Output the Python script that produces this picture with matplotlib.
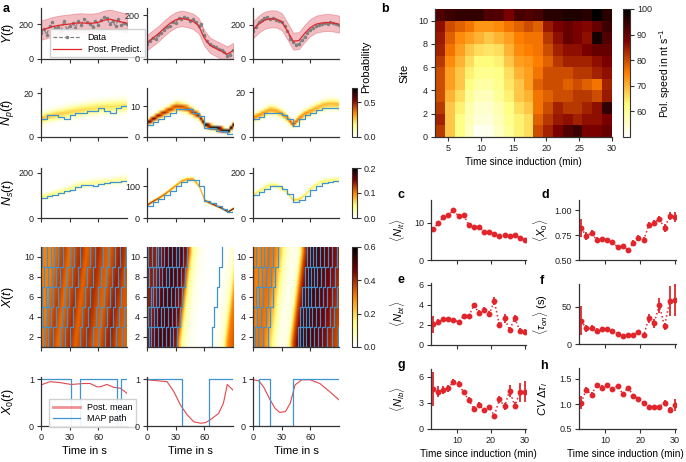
import matplotlib
matplotlib.use("Agg")
import matplotlib.pyplot as plt
import numpy as np

plt.rcParams['font.family'] = ['Liberation Sans', 'DejaVu Sans']
plt.rcParams['mathtext.fontset'] = 'custom'
plt.rcParams['mathtext.rm'] = 'Liberation Sans'
plt.rcParams['mathtext.it'] = 'Liberation Sans:italic'
plt.rcParams['font.size'] = 6.5
plt.rcParams['axes.linewidth'] = 0.9
plt.rcParams['axes.edgecolor'] = '#333333'
plt.rcParams['xtick.major.size'] = 3
plt.rcParams['ytick.major.size'] = 3
plt.rcParams['xtick.major.pad'] = 2
plt.rcParams['ytick.major.pad'] = 2
plt.rcParams['xtick.color'] = '#333333'
plt.rcParams['ytick.color'] = '#333333'
plt.rcParams['xtick.labelcolor'] = '#222222'
plt.rcParams['ytick.labelcolor'] = '#222222'

# ---------------- panel a data ----------------
t_post = np.arange(0, 91, 6)      # posterior grid (s)
t_frames = np.arange(0, 91, 3)    # measured frames (s)

# Y(t): data and posterior predictive mean, one per trace
y_data = [
    [150, 170, 140, 190, 210, 175, 185, 160, 220, 170, 190, 205, 180, 215, 195, 230,
     210, 200, 185, 220, 195, 225, 240, 235, 200, 215, 190, 230, 195, 205, 200],
    [70, 80, 95, 90, 110, 120, 130, 145, 150, 170, 165, 185, 180, 190, 185, 175,
     180, 170, 150, 160, 110, 80, 70, 60, 55, 45, 40, 30, 15, 20, 40],
    [165, 190, 215, 230, 240, 245, 235, 240, 230, 225, 215, 195, 165, 120, 100, 85,
     90, 110, 130, 155, 170, 185, 195, 200, 205, 210, 205, 215, 210, 205, 200],
]
y_mean = [
    [165, 175, 185, 192, 197, 200, 205, 207, 205, 205, 210, 222, 228, 220, 212, 205],
    [75, 95, 115, 140, 162, 178, 185, 180, 172, 152, 95, 62, 48, 35, 22, 38],
    [172, 205, 228, 236, 236, 220, 165, 105, 108, 150, 185, 205, 212, 215, 212, 205],
]
y_sd = [55, 35, 50]

# N_p(t): posterior mean and MAP path
np_mean = [
    [8.2, 9.2, 9.8, 10.3, 10.8, 11.3, 11.8, 12.2, 12.6, 13.0, 13.3, 13.6, 13.8, 14.0, 14.1, 14.2],
    [4.6, 5.8, 7.0, 8.0, 9.0, 10.0, 9.8, 9.2, 8.0, 7.0, 4.0, 3.3, 2.8, 2.4, 1.8, 4.0],
    [8.5, 9.7, 11.0, 12.2, 11.8, 10.5, 8.5, 5.5, 8.2, 10.3, 11.5, 12.8, 14.0, 14.7, 14.8, 14.5],
]
np_map = [
    [8, 10, 10, 9, 8, 10, 11, 11, 12, 12, 13, 12, 11, 13, 14, 14],
    [4, 5, 6, 7, 8, 9, 9, 9, 8, 7, 3, 3, 2, 2, 1, 4],
    [8, 9, 11, 11, 11, 10, 8, 5, 8, 10, 11, 12, 13, 13, 13, 12],
]
np_width = [0.5, 0.3, 0.38]

# N_s(t)
ns_mean = [
    [92, 98, 106, 114, 120, 128, 140, 148, 150, 155, 158, 160, 162, 165, 168, 172],
    [40, 52, 62, 74, 88, 102, 116, 122, 122, 100, 55, 46, 38, 30, 19, 30],
    [102, 118, 134, 146, 145, 132, 112, 80, 82, 100, 128, 145, 160, 164, 168, 170],
]
ns_map = [
    [88, 96, 104, 112, 118, 126, 136, 146, 148, 140, 150, 156, 160, 162, 165, 170],
    [38, 50, 60, 72, 86, 100, 114, 120, 118, 100, 52, 46, 38, 28, 18, 28],
    [100, 115, 130, 142, 142, 128, 108, 72, 78, 98, 125, 142, 156, 160, 164, 160],
]
ns_width = [0.85, 0.4, 0.6]

# X(t): occupation at site 1, moves up the gene with the polymerases
x_init = [
    [0.30, 0.34, 0.38, 0.32, 0.36, 0.40, 0.33, 0.37, 0.40, 0.35, 0.33, 0.38, 0.42, 0.36, 0.34, 0.33],
    [0.42, 0.46, 0.50, 0.50, 0.48, 0.42, 0.12, 0.03, 0.01, 0.0, 0.0, 0.0, 0.02, 0.05, 0.30, 0.35],
    [0.30, 0.32, 0.30, 0.20, 0.06, 0.02, 0.04, 0.35, 0.50, 0.52, 0.50, 0.48, 0.45, 0.42, 0.38, 0.35],
]
hop = 1.3  # s per site
path_starts = [
    [-12, -7, -3, 1, 5, 10, 17, 22, 28, 38, 44, 52, 58, 64, 70, 76, 82, 87],
    [-12, -8, -4, -1, 2, 5, 9, 13, 17, 21, 25, 29, 65, 88],
    [-10, -5, -1, 3, 8, 13, 44, 47, 50, 53, 57, 61, 65, 70, 75, 80, 86],
]

# X_0(t): posterior mean and MAP path
x0_t = [
    [0, 9.5, 20, 31.5, 44.5, 51.5, 58.5, 62, 69, 76, 83, 90],
    [0, 10.5, 21, 28, 35, 42, 49, 56, 61, 66, 75, 80, 84, 90],
    [0, 6, 11, 18, 23, 28, 34, 39, 44, 51, 60, 70, 80, 90],
]
x0_mean = [
    [0.88, 0.95, 0.93, 0.89, 0.91, 0.91, 0.84, 0.84, 0.89, 0.83, 0.81, 0.70],
    [0.99, 0.97, 0.95, 0.74, 0.45, 0.24, 0.09, 0.06, 0.07, 0.13, 0.27, 0.49, 0.89, 0.77],
    [0.99, 0.97, 0.84, 0.56, 0.38, 0.29, 0.31, 0.49, 0.88, 0.99, 0.99, 0.91, 0.74, 0.56],
]
x0_map_t = [[0, 31.5, 40.3, 80, 83.7, 90], [0, 36.6, 64.5, 90], [0, 5.9, 18, 41.5, 90]]
x0_map_s = [[1, 0, 1, 0, 1, 1], [1, 0, 1, 1], [0, 1, 0, 1, 1]]

# ---------------- panel b data ----------------
b_time_edges = np.arange(3, 30.1, 1.5)
b_site_edges = np.arange(0, 12)
speed = np.array([
    [82, 68, 62, 56, 51, 52, 56, 60, 64, 66, 80, 84, 88, 92, 94, 88, 88, 90],
    [84, 68, 62, 57, 54, 54, 57, 61, 64, 66, 78, 82, 85, 86, 84, 86, 86, 88],
    [82, 68, 64, 58, 55, 55, 58, 62, 66, 68, 76, 80, 84, 82, 82, 84, 86, 95],
    [80, 70, 66, 60, 57, 57, 60, 64, 68, 70, 76, 78, 80, 80, 82, 82, 80, 85],
    [80, 72, 68, 62, 59, 59, 61, 65, 68, 72, 78, 80, 80, 78, 80, 78, 76, 84],
    [80, 72, 68, 64, 61, 61, 62, 66, 70, 72, 76, 80, 80, 80, 82, 82, 84, 86],
    [82, 74, 70, 66, 63, 63, 64, 68, 72, 73, 75, 78, 82, 84, 84, 84, 86, 88],
    [84, 76, 72, 68, 66, 65, 66, 70, 74, 75, 76, 80, 84, 86, 86, 88, 90, 90],
    [85, 78, 74, 72, 70, 68, 70, 72, 75, 76, 76, 82, 86, 90, 88, 86, 98, 92],
    [86, 80, 78, 76, 73, 73, 74, 76, 78, 80, 78, 85, 88, 90, 88, 87, 90, 94],
    [92, 94, 95, 95, 95, 92, 92, 88, 93, 92, 93, 96, 96, 97, 97, 96, 100, 96],
])

# ---------------- panels c-h data ----------------
t_ind = np.arange(3, 30.1, 1.5)
c_val = [8.2, 9.8, 11.4, 12.1, 13.2, 11.7, 11.9, 9.4, 8.7, 8.7, 7.6, 7.6, 6.9, 6.3, 6.7, 6.3, 6.8, 5.8, 5.4]
c_err = [0.5, 0.4, 0.4, 0.3, 0.3, 0.3, 0.3, 0.3, 0.3, 0.3, 0.3, 0.3, 0.3, 0.3, 0.3, 0.3, 0.3, 0.3, 0.3]
d_val = [0.82, 0.74, 0.77, 0.70, 0.71, 0.70, 0.68, 0.63, 0.64, 0.60, 0.67, 0.72, 0.70, 0.85, 0.87, 0.91, 0.82, 0.94, 0.93]
d_err = [0.09, 0.04, 0.03, 0.03, 0.02, 0.02, 0.02, 0.02, 0.02, 0.02, 0.03, 0.03, 0.03, 0.03, 0.03, 0.03, 0.04, 0.04, 0.05]
e_val = [2.07, 2.27, 2.6, 2.57, 2.55, 2.3, 2.9, 2.9, 3.97, 3.23, 3.5, 3.1, 4.37, 2.0, 2.67, 1.5, 2.7, 1.43, 1.33]
e_err = [0.85, 0.3, 0.2, 0.15, 0.15, 0.15, 0.2, 0.2, 0.25, 0.25, 0.3, 0.3, 0.4, 0.3, 0.45, 0.3, 0.35, 0.3, 0.3]
f_val = [31.5, 21, 21, 18, 20, 20.5, 17, 14, 11, 11.5, 12.5, 16, 11.5, 35, 28, 52, 24, 58, 60]
f_err = [20, 5, 4, 3, 3, 3, 3, 2, 2, 2, 2, 3, 3, 6, 6, 10, 5, 20, 22]
g_val = [4.6, 4.3, 4.5, 4.7, 5.45, 5.2, 4.2, 3.35, 2.3, 2.75, 2.2, 2.5, 1.55, 3.4, 2.6, 4.4, 2.65, 4.2, 4.3]
g_err = [1.9, 0.6, 0.5, 0.4, 0.3, 0.3, 0.3, 0.3, 0.3, 0.3, 0.2, 0.3, 0.2, 0.4, 0.4, 0.7, 0.4, 1.1, 1.2]
h_val = [1.03, 1.28, 1.19, 1.38, 1.33, 1.38, 1.31, 1.36, 1.2, 1.33, 1.17, 1.11, 1.03, 0.95, 0.95, 0.95, 1.03, 0.88, 0.98]
h_err = [0.13, 0.06, 0.05, 0.05, 0.05, 0.04, 0.04, 0.04, 0.04, 0.04, 0.04, 0.04, 0.03, 0.03, 0.03, 0.04, 0.05, 0.06, 0.12]

RED = '#e0262c'
BLUE = '#3d94d1'
CMAP = 'afmhot_r'

W, H = 686, 462
fig = plt.figure(figsize=(6.86, 4.62), dpi=100)


def add_ax(l, t, r, b):
    return fig.add_axes([l / W, 1 - b / H, (r - l) / W, (b - t) / H])


def despine(ax):
    ax.spines['top'].set_visible(False)
    ax.spines['right'].set_visible(False)


def density(mean, width, ymax):
    tt = np.linspace(0, 90, 271)
    mu = np.interp(tt, t_post, mean)
    yy = np.arange(0, ymax + 1)
    sd = width * np.sqrt(np.maximum(mu, 1))
    p = np.exp(-(yy[:, None] - mu[None, :]) ** 2 / (2 * sd ** 2)) / (np.sqrt(2 * np.pi) * sd)
    return p, [0, 90, -0.5, ymax + 0.5]


col_left = [41, 147, 253]
rows = [(8, 59), (88, 137), (168, 218), (247, 347), (377, 426)]
ylabels = ['$Y(t)$', '$N_p(t)$', '$N_s(t)$', '$X(t)$', '$X_0(t)$']

y_lims = [(0, 292), (0, 232), (0, 300)]
np_lims = [(0, 22.3), (0, 16), (0, 22)]
np_ticks = [[0, 20], [0, 10], [0, 20]]
ns_lims = [(0, 222), (0, 157), (0, 222)]
ns_ticks = [[0, 200], [0, 100], [0, 200]]

ims = {}
for c in range(3):
    l = col_left[c]
    axs = [add_ax(l, t, l + 86, b) for (t, b) in rows]
    for r, ax in enumerate(axs):
        despine(ax)
        ax.set_xlim(0, 90)
        ax.set_xticks([0, 30, 60])
        if r < 4:
            ax.set_xticklabels([])
        else:
            ax.set_xlabel('Time in s', fontsize=8, labelpad=3)
        if c == 0:
            ax.set_ylabel(ylabels[r], fontsize=9)
            ax.yaxis.set_label_coords(-0.29, 0.5)

    # Y(t)
    ax = axs[0]
    m = np.array(y_mean[c])
    ax.fill_between(t_post, m - y_sd[c], m + y_sd[c], color='#e3707a', alpha=0.45, lw=0.6,
                    edgecolor='#e0505a')
    ax.plot(t_frames, y_data[c], color='#808080', ls='--', lw=0.9, marker='o', ms=1.5,
            label='Data', dashes=(3, 1.5))
    ax.plot(t_post, m, color=RED, lw=0.9, label='Post. Predict.')
    ax.set_ylim(*y_lims[c])
    ax.set_yticks([0, 200])
    if c == 0:
        ax.legend(loc='upper left', bbox_to_anchor=(0.05, 0.67), fontsize=6.5, frameon=True,
                  edgecolor='#cccccc', framealpha=0.9, handlelength=3, borderpad=0.4,
                  labelspacing=0.3, fancybox=False)

    # N_p(t)
    ax = axs[1]
    p, ext = density(np_mean[c], np_width[c], 25)
    ims['np'] = ax.imshow(p, origin='lower', extent=ext, aspect='auto', cmap=CMAP,
                          vmin=0, vmax=0.7, interpolation='bilinear')
    ax.step(t_post, np_map[c], where='post', color=BLUE, lw=0.9)
    ax.set_xlim(0, 90)
    ax.set_ylim(*np_lims[c])
    ax.set_yticks(np_ticks[c])

    # N_s(t)
    ax = axs[2]
    p, ext = density(ns_mean[c], ns_width[c], 230)
    ims['ns'] = ax.imshow(p, origin='lower', extent=ext, aspect='auto', cmap=CMAP,
                          vmin=0, vmax=0.2, interpolation='bilinear')
    ax.step(t_post, ns_map[c], where='post', color=BLUE, lw=0.9)
    ax.set_xlim(0, 90)
    ax.set_ylim(*ns_lims[c])
    ax.set_yticks(ns_ticks[c])

    # X(t)
    ax = axs[3]
    tt = np.linspace(0, 90, 361)
    sites = np.arange(1, 11)
    heat = np.array([np.interp(tt - hop * (s - 1), t_post, x_init[c]) for s in sites])
    ims['x'] = ax.imshow(heat, origin='lower', extent=[0, 90, 1, 11], aspect='auto', cmap=CMAP,
                         vmin=0, vmax=0.6, interpolation='bilinear')
    for t0 in path_starts[c]:
        ax.step(t0 + 2 * hop * np.arange(6), np.arange(1, 12, 2), where='post',
                color=BLUE, lw=0.9)
    ax.set_xlim(0, 90)
    ax.set_ylim(1, 11)
    ax.set_yticks([2, 4, 6, 8, 10])

    # X_0(t)
    ax = axs[4]
    ax.plot(x0_t[c], x0_mean[c], color=RED, lw=0.8, alpha=0.85, label='Post. mean')
    ax.step(x0_map_t[c], x0_map_s[c], where='post', color=BLUE, lw=0.9, label='MAP path')
    ax.set_ylim(0, 1.05)
    ax.set_yticks([0, 1])
    if c == 0:
        leg = ax.legend(loc='upper left', bbox_to_anchor=(0.04, 0.64), fontsize=6.5,
                        frameon=True, edgecolor='#cccccc', framealpha=0.9, handlelength=3,
                        borderpad=0.4, labelspacing=0.3, fancybox=False)
        leg.get_lines()[0].set_linewidth(2)
        leg.get_lines()[0].set_alpha(0.5)

# colorbars for panel a
for key, (t, b), ticks in [('np', rows[1], [0.0, 0.5]), ('ns', rows[2], [0.0, 0.1, 0.2]),
                           ('x', rows[3], [0.0, 0.2, 0.4, 0.6])]:
    cax = add_ax(352, t, 356.5, b)
    cb = fig.colorbar(ims[key], cax=cax, ticks=ticks)
    cb.ax.set_yticklabels([f'{v:.1f}' for v in ticks])
    cb.outline.set_linewidth(0.8)
    cb.ax.tick_params(length=3, pad=2)
fig.text(366 / W, 1 - 67 / H, 'Probability', rotation=90, ha='center', va='center', fontsize=8)

# ---------------- panel b ----------------
axb = add_ax(435, 9, 612, 137)
mesh = axb.pcolormesh(b_time_edges, b_site_edges, speed, cmap=CMAP, vmin=50, vmax=100)
despine(axb)
axb.set_xticks([5, 10, 15, 20, 25, 30])
axb.set_yticks([0, 2, 4, 6, 8, 10])
axb.set_xlabel('Time since induction (min)', fontsize=7.2, labelpad=3)
axb.set_ylabel('Site', fontsize=8, labelpad=6)
caxb = add_ax(623, 9, 630, 137)
cbb = fig.colorbar(mesh, cax=caxb, ticks=[60, 70, 80, 90, 100])
cbb.outline.set_linewidth(0.8)
cbb.ax.tick_params(length=3, pad=2)
cbb.set_label('Pol. speed in nt s$^{-1}$', fontsize=7.5, labelpad=4)

# ---------------- panels c-h ----------------
small = [
    ((431, 200, 526, 260), c_val, c_err, r'$\langle N_{lt}\rangle$', (0, 16), [0, 10]),
    ((579, 200, 676, 260), d_val, d_err, r'$\langle X_0\rangle$', (0.5, 1.1), [0.5, 0.75, 1.0]),
    ((431, 283, 526, 345), e_val, e_err, r'$\langle N_{bt}\rangle$', (0, 6.2), [0, 2, 4, 6]),
    ((579, 284, 676, 344), f_val, f_err, r'$\langle \tau_{on}\rangle$ (s)', (0, 81), [0, 50]),
    ((431, 369, 526, 429), g_val, g_err, r'$\langle N_{lb}\rangle$', (0, 6.9), [0, 3, 6]),
    ((579, 368, 676, 429), h_val, h_err, r'$CV\ \Delta\tau_l$', (0.5, 1.72), [0.5, 1.0, 1.5]),
]
for i, (box, val, err, lab, ylim, yt) in enumerate(small):
    ax = add_ax(*box)
    despine(ax)
    ax.errorbar(t_ind, val, yerr=err, fmt='o', color=RED, ms=3.2, elinewidth=1.3,
                capsize=0, ls=':', lw=1.1)
    ax.set_xlim(2.4, 30.3)
    ax.set_ylim(*ylim)
    ax.set_xticks([10, 20, 30])
    ax.set_yticks(yt)
    if i == 1:
        ax.set_yticklabels(['0.50', '0.75', '1.00'])
    if i < 4:
        ax.set_xticklabels([])
    else:
        ax.set_xlabel('Time since induction (min)', fontsize=7.2, labelpad=3)
        if i == 5:
            ax.xaxis.set_label_coords(0.48, -0.32)
    ax.set_ylabel(lab, fontsize=8)
    ax.yaxis.set_label_coords(-0.25 if i % 2 == 0 else -0.30, 0.5)

# panel letters
for letter, x, y in [('a', 3, 9), ('b', 381, 9), ('c', 397, 195), ('d', 541, 195),
                     ('e', 398, 280), ('f', 540, 281), ('g', 398, 365), ('h', 540, 366)]:
    fig.text(x / W, 1 - y / H, letter, fontsize=9, fontweight='bold', ha='left', va='center')

fig.savefig('out.png', dpi=100)
